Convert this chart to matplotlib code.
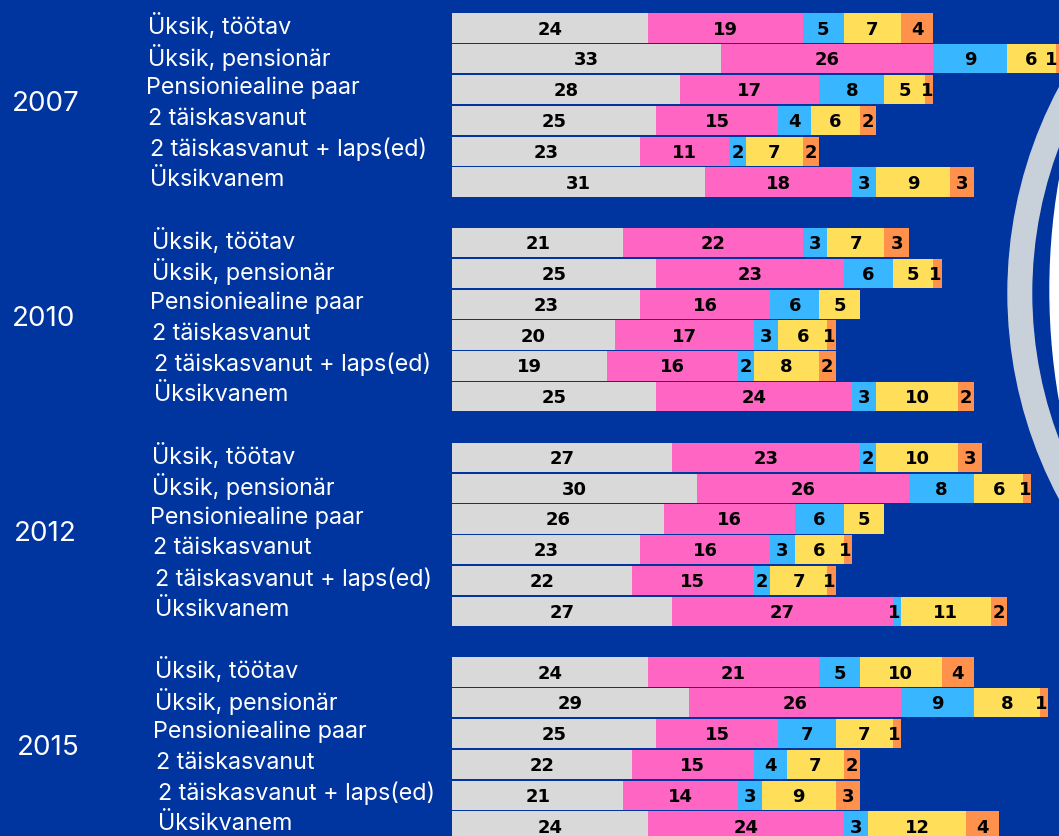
import matplotlib
matplotlib.use('Agg')
import matplotlib.pyplot as plt
from matplotlib.patches import Ellipse
from matplotlib.transforms import blended_transform_factory

years = ['2007', '2010', '2012', '2015']
households = [
    'Üksik, töötav',
    'Üksik, pensionär',
    'Pensioniealine paar',
    '2 täiskasvanut',
    '2 täiskasvanut + laps(ed)',
    'Üksikvanem',
]

# five stacked parts per row, one list per year (rows in household order)
seg_2007 = [[24, 19, 5, 7, 4], [33, 26, 9, 6, 1], [28, 17, 8, 5, 1],
            [25, 15, 4, 6, 2], [23, 11, 2, 7, 2], [31, 18, 3, 9, 3]]
seg_2010 = [[21, 22, 3, 7, 3], [25, 23, 6, 5, 1], [23, 16, 6, 5, 0],
            [20, 17, 3, 6, 1], [19, 16, 2, 8, 2], [25, 24, 3, 10, 2]]
seg_2012 = [[27, 23, 2, 10, 3], [30, 26, 8, 6, 1], [26, 16, 6, 5, 0],
            [23, 16, 3, 6, 1], [22, 15, 2, 7, 1], [27, 27, 1, 11, 2]]
seg_2015 = [[24, 21, 5, 10, 4], [29, 26, 9, 8, 1], [25, 15, 7, 7, 1],
            [22, 15, 4, 7, 2], [21, 14, 3, 9, 3], [24, 24, 3, 12, 4]]
all_data = [seg_2007, seg_2010, seg_2012, seg_2015]

colors = ['#d9d9d9', '#ff66c4', '#38b6ff', '#ffde59', '#ff914d']
BG = '#00349f'

W, H = 1059, 836
X0 = 452          # pixel where bars start
PX_UNIT = 8.16    # pixels per unit
ROW_PX = 30.8
FIRST_ROW_PX = 28
GROUP_STEP = 6.97

fig = plt.figure(figsize=(W / 100, H / 100), dpi=100, facecolor=BG)
ax = fig.add_axes([X0 / W, 0, 1 - X0 / W, 1])
ax.set_facecolor('none')
xmax = (W - X0) / PX_UNIT
ax.set_xlim(0, xmax)
ax.set_ylim((H - FIRST_ROW_PX) / ROW_PX, -FIRST_ROW_PX / ROW_PX)
ax.axis('off')

# decorative ring on the right
cx, cy = 1445, H - 293
for r, c in [(437, '#c8d0d9'), (412, BG)]:
    fig.add_artist(Ellipse((cx / W, cy / H), 2 * r / W, 2 * r / H,
                           transform=fig.transFigure, color=c, zorder=-2))
fig.add_artist(Ellipse((1690 / W, (H - 290) / H), 2 * 640 / W, 2 * 640 / H,
                       transform=fig.transFigure, color='white', zorder=-1))

trans = blended_transform_factory(fig.transFigure, ax.transData)
year_x = [12, 12, 14, 17]
label_x = [147.7, 151.7, 152.5, 155.3]
row_dx = [0, 0, -2, 0.5, 2.5, 2.5]

for g, data in enumerate(all_data):
    for i, row in enumerate(data):
        y = g * GROUP_STEP + i
        left = 0
        for k, v in enumerate(row):
            if v > 0:
                ax.barh(y, v, left=left, height=0.95, color=colors[k], linewidth=0)
                tx = left + v / 2 - (0.3 if v == 1 else 0)
                tx = min(tx, xmax - 0.9)
                ax.text(tx, y + 0.05, str(v), ha='center', va='center',
                        fontsize=13, fontweight='bold', family='DejaVu Sans',
                        color='black')
            left += v
        ax.text((label_x[g] + row_dx[i]) / W, y - 0.05, households[i], transform=trans,
                ha='left', va='center', fontsize=16.8, family='Inter', color='white')
    ax.text(year_x[g] / W, g * GROUP_STEP + 2.5 - 0.02, years[g], transform=trans,
            ha='left', va='center', fontsize=20, family='Inter', color='white')

fig.savefig('out.png', dpi=100, facecolor=BG)
